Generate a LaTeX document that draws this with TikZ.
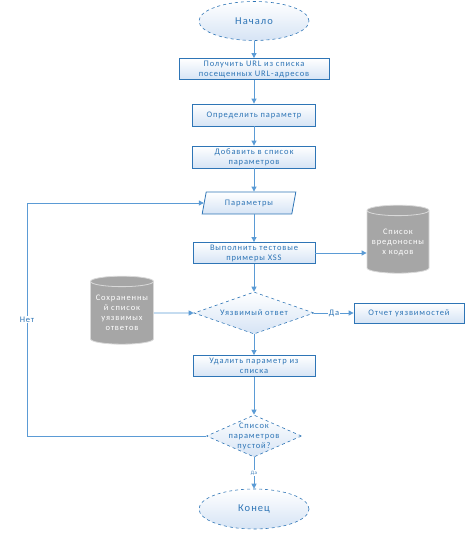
\documentclass[tikz,border=0pt]{standalone}
\usepackage{fontspec}
\newfontfamily\labelfont[LetterSpace=10]{Carlito}
\usetikzlibrary{arrows.meta,positioning,shapes.geometric}
\definecolor{Line}{HTML}{5B9BD5}
\definecolor{Edge}{HTML}{2E75B6}
\definecolor{Word}{HTML}{2E75B6}
\definecolor{Mist}{HTML}{D6E4F5}
\definecolor{Store}{HTML}{A6A6A6}
\definecolor{StoreEdge}{HTML}{D9D9D9}

\tikzset{
  flow/.style={draw=Line,line width=0.9pt,-{Triangle[length=5pt,width=5pt]}},
  txt/.style={font=\labelfont\fontsize{8.5}{10}\selectfont,text=Word,align=center},
  stepbox/.style={txt,draw=Edge,line width=0.8pt,bottom color=Mist,top color=white,
    minimum height=21pt,inner sep=1pt},
  terminal/.style={txt,ellipse,draw=Edge,dashed,line width=0.6pt,bottom color=Mist,top color=white,
    minimum width=110pt,minimum height=39pt,font=\labelfont\fontsize{10.5}{12}\selectfont},
  choice/.style={diamond,draw=Edge,dashed,line width=0.6pt,bottom color=Mist,top color=white,
    inner sep=0pt},
  store/.style={txt,cylinder,shape border rotate=90,aspect=0.2,fill=Store,draw=StoreEdge,
    line width=0.8pt,text=white,minimum width=62pt,minimum height=68pt,inner sep=0pt},
  tag/.style={txt,fill=white,inner sep=1pt}
}

\begin{document}
\begin{tikzpicture}[x=1pt,y=-1pt]
  \useasboundingbox (0,0) rectangle (468,534);
  \node[terminal] (start) at (254,21) {Начало};
  \node[stepbox,minimum width=150pt] (geturl) at (254,69)
    {Получить URL из списка\\посещенных URL-адресов};
  \node[stepbox,minimum width=123pt,minimum height=22pt] (findpar) at (254,115) {Определить параметр};
  \node[stepbox,minimum width=123pt,minimum height=22pt] (addpar) at (254,157)
    {Добавить в список\\параметров};
  \node[txt,trapezium,trapezium left angle=75,trapezium right angle=105,trapezium stretches=true,
    draw=Edge,line width=0.8pt,bottom color=Mist,top color=white,
    minimum width=94pt,minimum height=22pt,inner sep=1pt]
    (params) at (249,203) {Параметры};
  \node[stepbox,minimum width=122pt] (runxss) at (254,253)
    {Выполнить тестовые\\примеры XSS};
  \node[store] (payloads) at (398,242) {Список\\вредоносны\\х кодов};
  \node[choice,minimum width=120pt,minimum height=42pt,
    label={[txt]center:Уязвимый ответ}] (vuln) at (254,313) {};
  \node[store,minimum width=63pt] (saved) at (122,313)
    {Сохраненны\\й список\\уязвимых\\ответов};
  \node[stepbox,minimum width=110pt,minimum height=20pt] (report) at (409,313) {Отчет уязвимостей};
  \node[stepbox,minimum width=122pt] (delpar) at (254,366) {Удалить параметр из\\списка};
  \node[choice,minimum width=95pt,minimum height=42pt,
    label={[txt]center:Список\\параметров\\пустой?}] (empty) at (254,436) {};
  \node[terminal,minimum height=40pt] (finish) at (254,509) {Конец};
  \coordinate (loopcorner) at (27,436);

  % main column
  \draw[flow] (start) -- (geturl);
  \draw[flow] (geturl) -- (findpar);
  \draw[flow] (findpar) -- (addpar);
  \draw[flow] (addpar.south) -- (addpar.south |- params.north);
  \draw[flow] (params.south -| runxss.north) -- (runxss);
  \draw[flow] (runxss) -- (vuln);
  \draw[flow] (vuln) -- (delpar);
  \draw[flow] (delpar) -- (empty);
  \draw[flow] (empty) -- node[tag,font=\labelfont\fontsize{5}{6}\selectfont] {Да} (finish);
  % side branches
  \draw[flow] (runxss.east) -- (runxss.east -| payloads.west);
  \draw[flow] (saved) -- (vuln);
  \draw[flow] (vuln) -- node[tag] {Да} (report);
  \draw[flow] (empty.west) -- (loopcorner) |- node[tag,pos=0.25] {Нет} (params.west);
\end{tikzpicture}
\end{document}
